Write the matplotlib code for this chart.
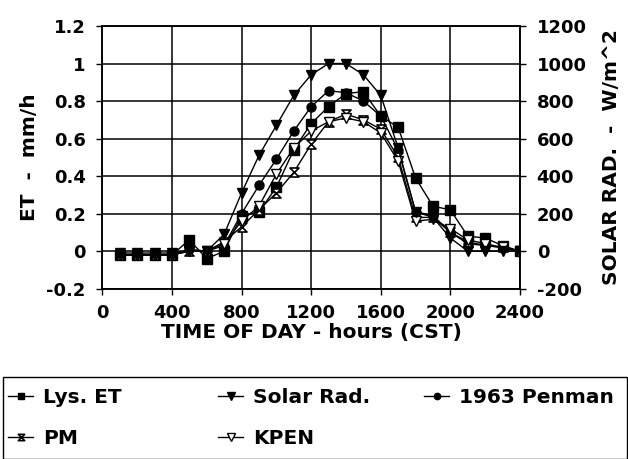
import matplotlib
matplotlib.use("Agg")
import matplotlib.pyplot as plt
from matplotlib.patches import Rectangle
from matplotlib.path import Path

hours = [100, 200, 300, 400, 500, 600, 700, 800, 900, 1000, 1100, 1200,
         1300, 1400, 1500, 1600, 1700, 1800, 1900, 2000, 2100, 2200, 2300, 2400]
lys_et = [-0.02, -0.02, -0.02, -0.02, 0.06, -0.04, 0.00, 0.19, 0.21, 0.34, 0.54, 0.68,
          0.77, 0.84, 0.85, 0.72, 0.66, 0.39, 0.24, 0.22, 0.08, 0.07, 0.03, 0.00]
solar_rad = [-10, -10, -10, -10, 0, 0, 90, 310, 510, 670, 830, 940,
             1000, 1000, 940, 830, 550, 210, 180, 70, 0, 0, 0, 0]
penman = [-0.02, -0.02, -0.02, -0.02, 0.01, 0.00, 0.03, 0.20, 0.35, 0.49, 0.64, 0.77,
          0.855, 0.845, 0.80, 0.72, 0.54, 0.21, 0.19, 0.10, 0.04, 0.03, 0.02, 0.00]
pm = [-0.02, -0.02, -0.02, -0.02, 0.00, 0.00, 0.05, 0.13, 0.22, 0.31, 0.42, 0.57,
      0.69, 0.73, 0.70, 0.65, 0.50, 0.18, 0.18, 0.10, 0.05, 0.03, 0.02, 0.00]
kpen = [-0.02, -0.02, -0.02, -0.02, 0.00, 0.00, 0.04, 0.16, 0.24, 0.41, 0.55, 0.64,
        0.69, 0.71, 0.69, 0.63, 0.48, 0.16, 0.17, 0.12, 0.06, 0.04, 0.02, 0.00]

x_ticks = [0, 400, 800, 1200, 1600, 2000, 2400]
et_ticks = [-0.2, 0, 0.2, 0.4, 0.6, 0.8, 1.0, 1.2]
et_labels = ["-0.2", "0", "0.2", "0.4", "0.6", "0.8", "1", "1.2"]
sr_ticks = [-200, 0, 200, 400, 600, 800, 1000, 1200]

plt.rcParams['font.family'] = ['DejaVu Sans']
plt.rcParams['font.weight'] = 'bold'
plt.rcParams['axes.unicode_minus'] = False

hourglass = Path([(-1, 1), (1, 1), (-1, -1), (1, -1), (-1, 1)],
                 [Path.MOVETO, Path.LINETO, Path.LINETO, Path.LINETO, Path.CLOSEPOLY])

W, H = 628, 459
fig = plt.figure(figsize=(W / 100, H / 100), dpi=100)
ax = fig.add_axes([102.3 / W, 1 - 288.7 / H, (520 - 102.3) / W, (288.7 - 26) / H])
ax2 = ax.twinx()

ms = 6.5
l1, = ax.plot(hours, lys_et, color='black', lw=1, marker='s', ms=ms, label='Lys. ET', zorder=3)
l2, = ax2.plot(hours, solar_rad, color='black', lw=1, marker='v', ms=ms + 1, label='Solar Rad.', zorder=3)
l3, = ax.plot(hours, penman, color='black', lw=1, marker='o', ms=ms, label='1963 Penman', zorder=3)
l4, = ax.plot(hours, pm, color='black', lw=1, marker=hourglass, mfc='white', mew=1.2, ms=ms, label='PM', zorder=3)
l5, = ax.plot(hours, kpen, color='black', lw=1, marker='v', mfc='white', ms=ms + 1, label='KPEN', zorder=3)

ax.set_xlim(0, 2400)
ax.set_ylim(-0.2, 1.2)
ax2.set_ylim(-200, 1200)
ax.set_xticks(x_ticks)
ax.set_yticks(et_ticks)
ax.set_yticklabels(et_labels)
ax2.set_yticks(sr_ticks)
ax.grid(True, color='black', lw=1.1)
fs = 13
for a in (ax, ax2):
    a.tick_params(labelsize=fs, width=1, length=4, direction='out')
    a.tick_params(axis='y', pad=8)
    a.tick_params(axis='x', pad=7)
    for lab in a.get_xticklabels() + a.get_yticklabels():
        lab.set_fontweight('bold')
    for s in a.spines.values():
        s.set_linewidth(1.1)
lfs = 14.5
ax.set_xlabel('TIME OF DAY - hours (CST)', fontsize=lfs, fontweight='bold', labelpad=1)
ax.set_ylabel('ET  -  mm/h', fontsize=lfs, fontweight='bold', labelpad=5)
ax2.set_ylabel('SOLAR RAD.  -  W/m^2', fontsize=lfs, fontweight='bold', labelpad=11)

# legend: three columns placed individually
leg_kw = dict(loc='upper left', frameon=False, prop={'size': 14.5, 'weight': 'bold'},
              markerscale=0.7, handlelength=1.25, handletextpad=0.5,
              labelspacing=1.1, borderaxespad=0, borderpad=0)
y_top = 1 - 388 / H
legA = fig.legend([l1, l4], ['Lys. ET', 'PM'], bbox_to_anchor=(8 / W, y_top), **leg_kw)
legB = fig.legend([l2, l5], ['Solar Rad.', 'KPEN'], bbox_to_anchor=(218 / W, y_top), **leg_kw)
legC = fig.legend([l3], ['1963 Penman'], bbox_to_anchor=(424 / W, y_top), **leg_kw)

fig.patches.append(Rectangle((3 / W, 0), 0.999 - 3 / W, 1 - 377 / H,
                             transform=fig.transFigure, fill=False,
                             edgecolor='black', lw=1))

fig.savefig('out.png', dpi=100)
